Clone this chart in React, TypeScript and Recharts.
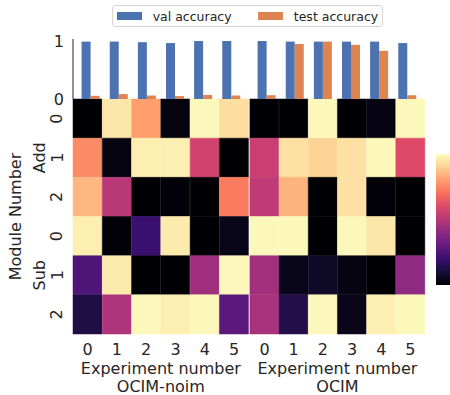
import React from 'react';
import { BarChart, Bar, XAxis, YAxis, Cell, Legend, Label } from 'recharts';

const experiments = ['0', '1', '2', '3', '4', '5'];
const methods = ['OCIM-noim', 'OCIM'];
const groups = ['Add', 'Sub'];
const modules = ['0', '1', '2'];
const seriesNames = ['val accuracy', 'test accuracy'];

// bar values, one list per method
const valNoim = [0.99, 0.99, 0.98, 0.965, 1.0, 1.0];
const testNoim = [0.055, 0.085, 0.06, 0.05, 0.07, 0.06];
const valOcim = [1.0, 0.99, 0.99, 0.99, 0.99, 0.965];
const testOcim = [0.065, 0.95, 0.99, 0.935, 0.83, 0.065];

// heatmap rows top to bottom: Add 0,1,2 then Sub 0,1,2 ; columns noim 0-5 then ocim 0-5
const add0 = [0.0, 0.95, 0.8, 0.02, 0.99, 0.93, 0.0, 0.0, 0.99, 0.0, 0.03, 0.99];
const add1 = [0.76, 0.02, 0.97, 0.97, 0.565, 0.0, 0.545, 0.94, 0.91, 0.94, 0.99, 0.6];
const add2 = [0.85, 0.505, 0.0, 0.01, 0.0, 0.725, 0.52, 0.84, 0.0, 0.94, 0.01, 0.0];
const sub0 = [0.97, 0.01, 0.2, 0.96, 0.0, 0.04, 0.99, 0.99, 0.0, 0.99, 0.95, 0.0];
const sub1 = [0.25, 0.96, 0.0, 0.0, 0.447, 0.99, 0.45, 0.04, 0.07, 0.03, 0.0, 0.405];
const sub2 = [0.128, 0.48, 0.99, 0.97, 0.99, 0.28, 0.465, 0.135, 0.99, 0.04, 0.97, 0.99];
const heat = [add0, add1, add2, sub0, sub1, sub2];

const magmaStops = [
  '#000004', '#140e36', '#3b0f70', '#641a80', '#8c2981', '#b73779',
  '#de4968', '#f7705c', '#fe9f6d', '#fecf92', '#fcfdbf',
];

const hex = (s: string) => [1, 3, 5].map((i) => parseInt(s.slice(i, i + 2), 16));

const magma = (t: number) => {
  const v = Math.max(0, Math.min(1, t)) * 10;
  const i = Math.min(9, Math.floor(v));
  const f = v - i;
  const a = hex(magmaStops[i]);
  const b = hex(magmaStops[i + 1]);
  const c = a.map((x, k) => Math.round(x + (b[k] - x) * f));
  return `rgb(${c[0]},${c[1]},${c[2]})`;
};

const TEXT = '#262626';

const LegendBox = (props: any) => {
  const items = [...(props.payload || [])].sort(
    (a: any, b: any) => seriesNames.indexOf(a.value) - seriesNames.indexOf(b.value)
  );
  return (
    <div
      style={{
        boxSizing: 'border-box',
        width: 271,
        height: 22,
        border: '1px solid #d6d6d6',
        borderRadius: 3,
        background: '#fff',
        display: 'flex',
        alignItems: 'center',
        fontSize: 12.5,
        color: TEXT,
        fontFamily: 'DejaVu Sans',
      }}
    >
      {items.map((p: any, i: number) => (
        <span key={p.value} style={{ display: 'flex', alignItems: 'center', marginLeft: i === 0 ? 4 : 26.5 }}>
          <span style={{ width: 25, height: 8, background: p.color, marginRight: 10.7 }} />
          <span>{p.value}</span>
        </span>
      ))}
    </div>
  );
};

const topData = (val: number[], test: number[]) =>
  experiments.map((e, i) => ({ exp: e, val: val[i], test: test[i] }));

const TopBars = ({ val, test, left, right, first }: any) => (
  <div style={{ position: 'absolute', left: 0, top: 0 }}>
    <BarChart
      width={450}
      height={395}
      data={topData(val, test)}
      margin={{ top: 39, bottom: 296, left: first ? 0 : left, right: 450 - right }}
      barGap={0}
    >
      <XAxis dataKey="exp" hide padding={{ left: 3.6, right: 3.6 }} />
      <YAxis
        domain={[0, 1.035]}
        ticks={[0, 1]}
        hide={!first}
        width={73}
        tickLine={false}
        tickSize={0}
        tickMargin={9}
        axisLine={{ stroke: TEXT, strokeWidth: 1 }}
        tick={{ fill: TEXT, fontSize: 16 }}
      />
      <Bar dataKey="val" name={seriesNames[0]} fill="#4c72b0" barSize={9} isAnimationActive={false} />
      <Bar dataKey="test" name={seriesNames[1]} fill="#dd8452" barSize={9} isAnimationActive={false} />
      {first && (
        <Legend
          layout="horizontal"
          verticalAlign="middle"
          align="center"
          content={LegendBox}
          wrapperStyle={{ left: 112, top: 5, width: 271, height: 22 }}
        />
      )}
    </BarChart>
  </div>
);

const RowTick = (props: any) => {
  const { x, y, index } = props;
  const dx = x - 16;
  const gx = x - 34;
  return (
    <g>
      <text x={dx} y={y} transform={`rotate(-90, ${dx}, ${y})`} textAnchor="middle" dominantBaseline="central" fill={TEXT} fontSize={16}>
        {modules[index % 3]}
      </text>
      {index % 3 === 1 && (
        <text x={gx} y={y} transform={`rotate(-90, ${gx}, ${y})`} textAnchor="middle" dominantBaseline="central" fill={TEXT} fontSize={16}>
          {groups[Math.floor(index / 3)]}
        </text>
      )}
    </g>
  );
};

// two-line caption under each half
const methodLabel = (name: string) => (props: any) => {
  const vb = props.viewBox || { x: 0, y: 0, width: 0, height: 0 };
  const cx = vb.x + vb.width / 2;
  return (
    <g>
      <text x={cx} y={374} textAnchor="middle" fill={TEXT} fontSize={16}>Experiment number</text>
      <text x={cx} y={391.5} textAnchor="middle" fill={TEXT} fontSize={16}>{name}</text>
    </g>
  );
};

const ModuleLabel = (props: any) => {
  const vb = props.viewBox || { x: 0, y: 0, width: 0, height: 0 };
  const lx = vb.x + 15;
  const ly = vb.y + vb.height / 2;
  return (
    <text x={lx} y={ly} transform={`rotate(-90, ${lx}, ${ly})`} textAnchor="middle" dominantBaseline="central" fill={TEXT} fontSize={16}>
      Module Number
    </text>
  );
};

const HeatHalf = ({ mi, left, right, first }: any) => {
  const table = experiments.map((e) => {
    const row: any = { exp: e };
    heat.forEach((_, r) => {
      row[`r${r}`] = 1;
    });
    return row;
  });
  return (
    <div style={{ position: 'absolute', left: 0, top: 0 }}>
      <BarChart
        width={450}
        height={395}
        data={table}
        margin={{ top: 99, bottom: 0, left: first ? 0 : left, right: 450 - right }}
        barCategoryGap={0}
        barGap={0}
      >
        <XAxis
          dataKey="exp"
          interval={0}
          height={61}
          tickLine={false}
          axisLine={false}
          tickSize={0}
          tickMargin={10}
          tick={{ fill: TEXT, fontSize: 16 }}
        >
          <Label content={methodLabel(methods[mi])} />
        </XAxis>
        <YAxis
          type="number"
          domain={[0, 6]}
          reversed
          ticks={[0.5, 1.5, 2.5, 3.5, 4.5, 5.5]}
          interval={0}
          hide={!first}
          width={73}
          tickLine={false}
          axisLine={false}
          tickSize={0}
          tickMargin={0}
          tick={RowTick}
        >
          {first && <Label content={ModuleLabel} />}
        </YAxis>
        {heat.map((vals, r) => (
          <Bar key={r} dataKey={`r${r}`} stackId="h" isAnimationActive={false}>
            {experiments.map((_, c) => {
              const col = magma(vals[mi * 6 + c]);
              return <Cell key={c} fill={col} stroke={col} strokeWidth={0.5} />;
            })}
          </Bar>
        ))}
      </BarChart>
    </div>
  );
};

const Colorbar = () => (
  <div style={{ position: 'absolute', left: 436, top: 154 }}>
    <BarChart width={14} height={131} data={[{ v: 1 }]} margin={{ top: 0, bottom: 0, left: 0, right: 0 }} barCategoryGap={0}>
      <defs>
        <linearGradient id="magmaBar" x1="0" y1="1" x2="0" y2="0">
          {magmaStops.map((c, i) => (
            <stop key={i} offset={`${i * 10}%`} stopColor={c} />
          ))}
        </linearGradient>
      </defs>
      <XAxis hide />
      <YAxis hide domain={[0, 1]} />
      <Bar dataKey="v" fill="url(#magmaBar)" isAnimationActive={false} />
    </BarChart>
  </div>
);

export default function App() {
  return (
    <div style={{ position: 'absolute', left: 0, top: 0, width: 450, height: 395, fontFamily: 'DejaVu Sans', background: '#fff' }}>
      <HeatHalf mi={0} left={73} right={248.7} first />
      <HeatHalf mi={1} left={249.9} right={425} />
      <TopBars val={valNoim} test={testNoim} left={73} right={249} first />
      <TopBars val={valOcim} test={testOcim} left={249} right={425} />
      <Colorbar />
    </div>
  );
}
